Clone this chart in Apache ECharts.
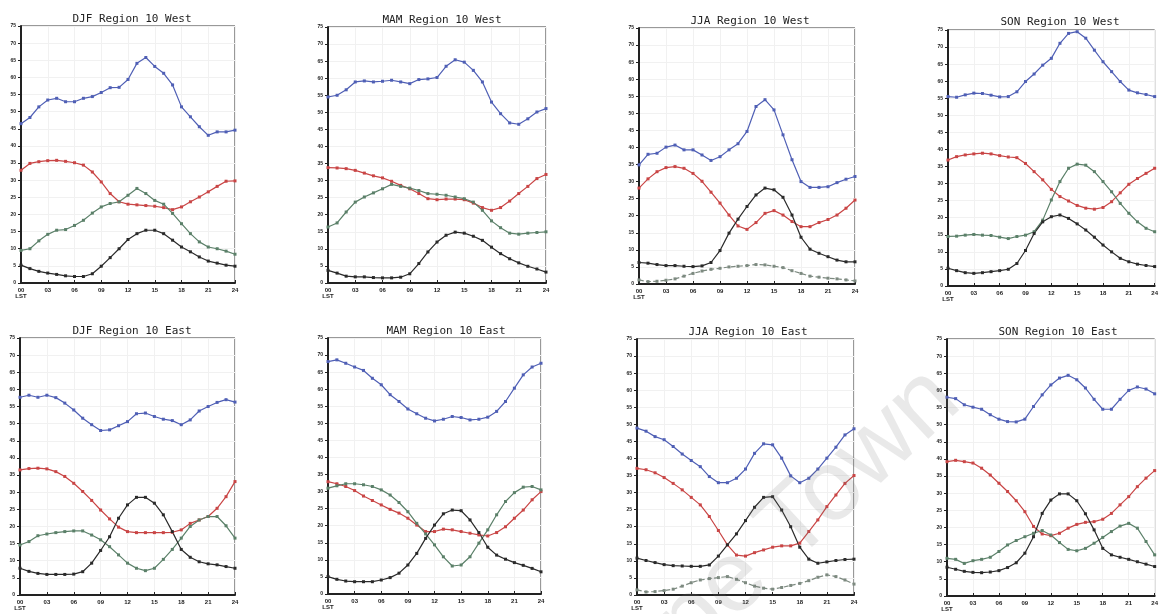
<!DOCTYPE html>
<html>
<head>
<meta charset="utf-8">
<script src="https://cdn.jsdelivr.net/npm/echarts@6/dist/echarts.min.js"></script>
<style>html,body{margin:0;padding:0;background:#fff;}#c{width:1161px;height:614px;}</style>
</head>
<body>
<div id="c"></div>
<script>
// ---- data (hour of day, 0..24) ----
const hours = [0,1,2,3,4,5,6,7,8,9,10,11,12,13,14,15,16,17,18,19,20,21,22,23,24];
const xTicks = ['00','03','06','09','12','15','18','21','24'];
const titles = ['DJF Region 10 West','MAM Region 10 West','JJA Region 10 West','SON Region 10 West',
                'DJF Region 10 East','MAM Region 10 East','JJA Region 10 East','SON Region 10 East'];

const djfWestBlue  = [46.5,48.3,51.4,53.4,53.9,52.9,52.9,53.9,54.4,55.6,57.0,57.1,59.4,64.1,65.8,63.2,61.2,57.8,51.4,48.5,45.6,43.1,44.1,44.1,44.6];
const djfWestRed   = [32.9,34.9,35.4,35.7,35.8,35.5,35.1,34.4,32.4,29.5,26.1,23.7,23.0,22.8,22.6,22.4,22.0,21.4,22.2,23.7,25.1,26.6,28.2,29.7,29.8];
const djfWestGreen = [9.5,10.0,12.3,14.2,15.4,15.6,16.8,18.3,20.4,22.2,23.2,23.7,25.6,27.6,26.1,24.1,23.0,20.3,17.3,14.4,12.0,10.5,10.0,9.3,8.4];
const djfWestBlack = [5.2,4.2,3.4,2.9,2.5,2.1,1.9,1.9,2.7,4.9,7.4,10.0,12.7,14.4,15.4,15.4,14.4,12.5,10.5,9.1,7.6,6.4,5.8,5.2,4.9];

const mamWestBlue  = [54.5,55.0,56.6,58.9,59.2,58.9,59.1,59.4,58.9,58.4,59.6,59.8,60.2,63.5,65.4,64.7,62.3,58.9,53.0,49.6,46.9,46.5,48.1,50.1,51.1];
const mamWestRed   = [33.8,33.7,33.5,33.0,32.2,31.4,30.8,29.8,28.6,27.6,26.2,24.7,24.4,24.6,24.6,24.4,23.4,22.1,21.3,22.1,24.0,26.2,28.3,30.6,31.8];
const mamWestGreen = [16.4,17.6,20.8,23.7,25.2,26.4,27.6,28.9,28.3,27.8,27.1,26.2,26.0,25.7,25.2,24.7,23.7,21.3,18.2,16.2,14.6,14.3,14.6,14.8,15.0];
const mamWestBlack = [3.7,2.9,2.0,1.8,1.8,1.6,1.5,1.5,1.7,2.7,5.7,9.1,12.0,14.0,14.9,14.6,13.7,12.5,10.5,8.6,7.1,5.9,4.9,4.1,3.2];

const jjaWestBlue  = [34.9,38.0,38.3,40.1,40.7,39.3,39.3,37.8,36.2,37.3,39.3,41.1,44.7,52.0,54.0,51.0,43.7,36.4,30.0,28.3,28.3,28.5,29.7,30.7,31.5];
const jjaWestRed   = [28.1,30.8,32.9,34.1,34.4,33.9,32.4,30.1,26.9,23.7,20.2,17.0,16.0,18.0,20.7,21.5,20.2,18.3,16.8,16.8,18.0,18.9,20.2,22.2,24.6];
const jjaWestBlack = [6.3,6.1,5.7,5.4,5.4,5.2,5.1,5.3,6.3,9.8,14.9,19.0,22.7,26.1,28.1,27.6,25.4,20.2,13.7,10.2,9.0,8.0,7.0,6.5,6.5];
const jjaWestGrey  = [1.2,0.7,0.8,1.1,1.5,2.3,3.1,3.8,4.3,4.6,5.0,5.2,5.4,5.7,5.6,5.2,4.8,3.9,3.1,2.3,2.0,1.7,1.5,1.2,0.9];

const sonWestBlue  = [55.5,55.3,56.0,56.5,56.4,55.9,55.4,55.5,56.9,59.9,62.1,64.7,66.7,71.1,74.0,74.5,72.6,69.1,65.7,62.8,59.9,57.4,56.6,56.1,55.5];
const sonWestRed   = [36.9,37.9,38.4,38.7,38.9,38.7,38.2,37.8,37.6,35.9,33.5,31.1,28.3,26.2,24.9,23.6,22.8,22.5,23.0,24.7,27.3,29.8,31.5,33.0,34.5];
const sonWestGreen = [14.5,14.6,14.9,15.1,14.9,14.8,14.3,13.9,14.5,14.9,15.9,19.3,25.2,30.6,34.5,35.7,35.4,33.5,30.6,27.6,24.2,21.3,18.8,16.9,15.9];
const sonWestBlack = [5.2,4.5,3.9,3.7,3.9,4.2,4.5,4.9,6.6,10.4,15.4,18.8,20.3,20.8,19.8,18.2,16.4,14.3,12.0,10.0,8.1,7.1,6.4,6.0,5.7];

const djfEastBlue  = [57.7,58.3,57.7,58.3,57.6,56.0,54.0,51.6,49.7,48.0,48.2,49.4,50.6,52.9,53.1,52.1,51.3,50.9,49.7,51.1,53.7,55.0,56.2,57.0,56.3];
const djfEastRed   = [36.5,36.9,37.0,36.8,36.0,34.6,32.6,30.2,27.6,24.8,22.2,19.8,18.5,18.2,18.2,18.2,18.2,18.3,19.0,20.9,21.9,22.9,25.3,28.7,33.1];
const djfEastGreen = [14.6,15.6,17.3,17.8,18.2,18.5,18.7,18.7,17.5,16.1,14.1,11.7,9.3,7.8,7.1,7.8,10.4,13.3,16.6,20.0,21.9,22.9,22.9,20.2,16.6];
const djfEastBlack = [7.8,6.9,6.3,6.0,6.0,6.0,6.1,6.8,9.3,13.0,17.0,22.4,26.3,28.5,28.5,26.8,23.4,18.5,13.3,11.0,9.7,9.1,8.8,8.3,7.8];

const mamEastBlue  = [68.1,68.6,67.6,66.5,65.5,63.2,61.3,58.4,56.4,54.2,52.8,51.5,50.7,51.2,52.0,51.7,51.0,51.2,51.8,53.5,56.4,60.3,64.2,66.5,67.6];
const mamEastRed   = [32.9,32.3,31.5,30.3,28.7,27.4,26.1,24.8,23.7,22.2,20.2,18.3,18.3,19.0,18.8,18.3,17.8,17.3,17.0,18.0,19.7,22.2,24.6,27.6,30.0];
const mamEastGreen = [31.0,31.7,32.3,32.3,32.0,31.5,30.5,29.0,26.8,24.1,20.7,17.6,14.4,10.9,8.2,8.5,10.9,14.9,18.8,23.2,27.1,29.7,31.3,31.5,30.5];
const mamEastBlack = [5.1,4.3,3.8,3.6,3.6,3.6,4.1,4.8,6.1,8.5,11.9,16.3,20.2,23.5,24.6,24.4,21.7,18.0,13.7,11.4,10.2,9.2,8.4,7.5,6.5];

const jjaEastBlue  = [48.9,48.0,46.4,45.5,43.5,41.3,39.4,37.6,34.7,32.9,32.9,34.2,36.9,41.5,44.3,44.0,40.1,34.9,32.9,34.2,36.9,40.1,43.3,46.9,48.7];
const jjaEastRed   = [37.1,36.7,35.8,34.4,32.7,30.8,28.6,26.4,23.0,18.9,14.7,11.7,11.4,12.4,13.2,14.0,14.4,14.4,15.2,18.6,22.0,25.9,29.3,32.7,35.0];
const jjaEastBlack = [10.8,10.1,9.5,8.9,8.6,8.5,8.4,8.4,8.8,11.4,14.7,17.9,21.8,25.7,28.6,28.8,24.9,20.0,14.0,10.5,9.3,9.7,10.1,10.4,10.5];
const jjaEastGrey  = [1.5,0.9,1.0,1.3,1.7,2.6,3.6,4.4,4.8,5.1,5.4,4.6,3.6,2.6,2.0,1.7,2.2,2.8,3.4,4.2,5.2,5.9,5.4,4.4,3.2];

const sonEastBlue  = [58.0,57.6,55.8,55.1,54.5,52.9,51.6,50.9,50.8,51.6,55.3,58.7,61.6,63.6,64.4,63.1,60.7,57.4,54.5,54.5,57.4,60.0,61.0,60.4,59.0];
const sonEastRed   = [39.2,39.6,39.2,38.8,37.3,35.3,32.9,30.5,27.8,24.6,20.3,18.1,17.6,18.3,19.8,20.9,21.5,21.7,22.4,24.1,26.6,29.0,31.9,34.4,36.6];
const sonEastGreen = [11.0,10.7,9.5,10.3,10.7,11.3,13.0,14.9,16.2,17.3,18.3,19.1,17.8,15.6,13.6,13.2,13.9,15.4,17.1,18.8,20.4,21.2,19.8,15.9,12.0];
const sonEastBlack = [8.4,7.8,7.2,6.9,6.8,7.0,7.4,8.3,9.7,12.5,17.3,24.1,28.0,29.8,29.8,27.8,24.0,19.3,13.9,12.0,11.3,10.7,10.0,9.3,8.6];

// ---- layout & style ----
const grids = [
  {left:21,  top:26,  width:214, height:257},
  {left:328, top:27,  width:218, height:256},
  {left:639, top:28,  width:216, height:256},
  {left:948, top:30,  width:215, height:256},
  {left:20,  top:338, width:215, height:257},
  {left:328, top:338, width:213, height:256},
  {left:637, top:339, width:217, height:256},
  {left:947, top:339, width:215, height:257}
];
const titlePos = [[127,9],[437,10],[745,11],[1055,12],[127,321],[441,321],[743,322],[1053,322]];
const colors = {blue:'#4f5fb5', red:'#c94545', green:'#5b8069', black:'#2a2a2a', grey:'#7d8a80'};

const panelSeries = [
  {blue:djfWestBlue, red:djfWestRed, green:djfWestGreen, black:djfWestBlack},
  {blue:mamWestBlue, red:mamWestRed, green:mamWestGreen, black:mamWestBlack},
  {blue:jjaWestBlue, red:jjaWestRed, black:jjaWestBlack, grey:jjaWestGrey},
  {blue:sonWestBlue, red:sonWestRed, green:sonWestGreen, black:sonWestBlack},
  {blue:djfEastBlue, red:djfEastRed, green:djfEastGreen, black:djfEastBlack},
  {blue:mamEastBlue, red:mamEastRed, green:mamEastGreen, black:mamEastBlack},
  {blue:jjaEastBlue, red:jjaEastRed, black:jjaEastBlack, grey:jjaEastGrey},
  {blue:sonEastBlue, red:sonEastRed, green:sonEastGreen, black:sonEastBlack}
];

const option = {
  backgroundColor:'#fff',
  animation:false,
  title: titles.map((t,i)=>({
    text:t, left:titlePos[i][0], top:titlePos[i][1], textAlign:'center',
    textStyle:{fontFamily:'DejaVu Sans Mono', fontSize:11, fontWeight:'normal', color:'#222'}
  })),
  grid: grids.map(g=>Object.assign({show:true, borderColor:'#333', borderWidth:1, backgroundColor:'#fff'}, g)),
  xAxis: grids.map((g,i)=>({
    type:'value', gridIndex:i, min:0, max:24, interval:3,
    axisLine:{show:true, lineStyle:{color:'#222', width:2}},
    axisTick:{show:true, inside:true, length:3, lineStyle:{color:'#222'}},
    axisLabel:{fontSize:6, fontWeight:'bold', color:'#222', margin:4,
      formatter:(v)=>{const k=v/3; return (v===0)?'00\nLST':xTicks[k];}},
    splitLine:{show:true, lineStyle:{color:'#f1f1f1', width:1}}
  })),
  yAxis: grids.map((g,i)=>({
    type:'value', gridIndex:i, min:0, max:75, interval:5,
    axisLine:{show:true, lineStyle:{color:'#222', width:2}},
    axisTick:{show:true, length:3, lineStyle:{color:'#222'}},
    axisLabel:{fontSize:5, fontWeight:'bold', color:'#222', margin:5},
    splitLine:{show:true, lineStyle:{color:'#f1f1f1', width:1}}
  })),
  series: [],
  graphic: [{
    type:'text', x:762, y:556, rotation:0.75, z:100, silent:true,
    style:{text:'Cape Town', fontSize:100, fontFamily:'Liberation Sans', fontWeight:'normal',
      fill:'rgba(120,120,120,0.16)', align:'center', verticalAlign:'middle'}
  }]
};

panelSeries.forEach((p,i)=>{
  Object.keys(p).forEach(key=>{
    option.series.push({
      type:'line', xAxisIndex:i, yAxisIndex:i,
      data: hours.map((h,k)=>[h, p[key][k]]),
      symbol:'rect', symbolSize:3, showSymbol:true,
      itemStyle:{color:colors[key]},
      lineStyle:{color:colors[key], width:1.2, type: key==='grey' ? 'dashed' : 'solid'},
      clip:true
    });
  });
});

const chart = echarts.init(document.getElementById('c'), null, {renderer:'canvas'});
chart.setOption(option);
</script>
</body>
</html>
